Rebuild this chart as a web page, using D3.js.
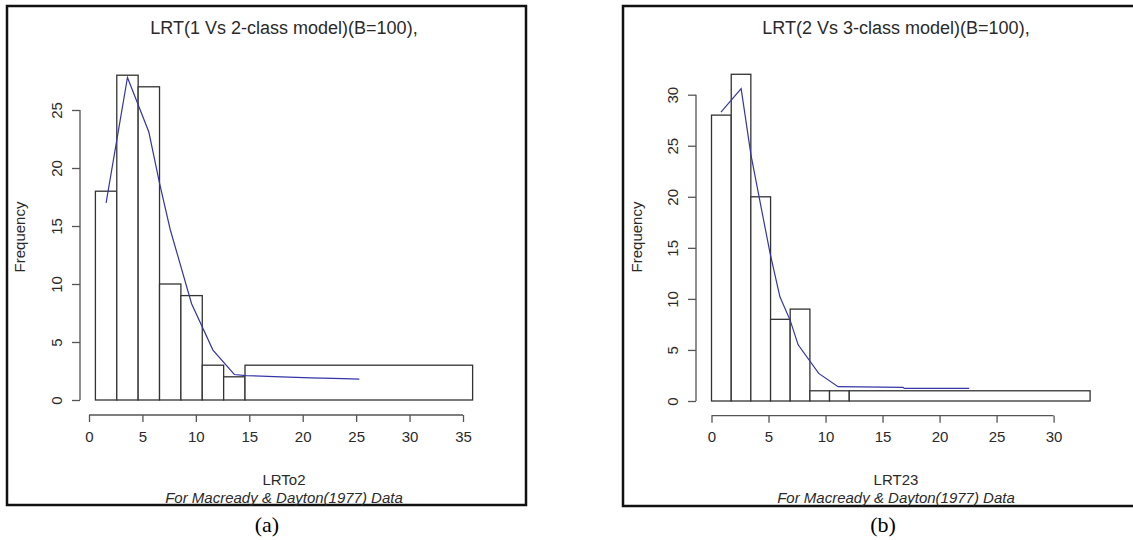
<!DOCTYPE html>
<html>
<head>
<meta charset="utf-8">
<script src="https://cdn.jsdelivr.net/npm/d3@7"></script>
<style>
  body { margin: 0; background: #fff; }
  text { font-family: "Liberation Sans", Arial, sans-serif; fill: #2a2a2a; }
  text.tag { font-family: "Liberation Serif", "Times New Roman", serif; fill: #000; }
</style>
</head>
<body>
<script>
// ---- data ----
// (a) LRT 1 vs 2 class
let breaksA = [0.6, 2.6, 4.6, 6.6, 8.6, 10.6, 12.6, 14.6, 35.9];
let countsA = [18, 28, 27, 10, 9, 3, 2, 3];
let lineAx = [1.6, 3.6, 5.6, 6.6, 7.6, 9.6, 11.6, 13.6, 14.7, 18.0, 20.8, 23.8, 25.3];
let lineAy = [17.0, 27.8, 23.1, 18.7, 14.7, 8.3, 4.3, 2.2, 2.1, 2.0, 1.9, 1.85, 1.8];
let xTicksA = [0, 5, 10, 15, 20, 25, 30, 35];
let yTicksA = [0, 5, 10, 15, 20, 25];

// (b) LRT 2 vs 3 class
let breaksB = [0, 1.73, 3.45, 5.18, 6.9, 8.63, 10.35, 12.08, 33.2];
let countsB = [28, 32, 20, 8, 9, 1, 1, 1];
let lineBx = [0.83, 2.6, 3.46, 5.13, 6.0, 6.9, 7.6, 9.4, 11.1, 16.8, 16.9, 22.6];
let lineBy = [28.3, 30.6, 24.1, 14.5, 10.2, 7.9, 5.5, 2.7, 1.4, 1.34, 1.24, 1.24];
let xTicksB = [0, 5, 10, 15, 20, 25, 30];
let yTicksB = [0, 5, 10, 15, 20, 25, 30];

let svg = d3.select("body").append("svg")
    .attr("width", 1133)
    .attr("height", 540);

svg.append("rect").attr("width", 1133).attr("height", 540).attr("fill", "#fff");

function drawPanel(p) {
  let x = d3.scaleLinear().domain(p.xDom).range(p.xRange);
  let y = d3.scaleLinear().domain(p.yDom).range(p.yRange);
  let g = svg.append("g");

  // frame
  g.append("rect")
      .attr("x", p.frame[0]).attr("y", p.frame[1])
      .attr("width", p.frame[2]).attr("height", p.frame[3])
      .attr("fill", "none").attr("stroke", "#111").attr("stroke-width", 2.5);

  // bars
  let bins = p.counts.map(function(c, i) {
    return {x0: p.breaks[i], x1: p.breaks[i + 1], count: c};
  });
  g.selectAll(".bar")
      .data(bins)
      .enter().append("rect")
      .attr("class", "bar")
      .attr("x", function(d) { return x(d.x0); })
      .attr("width", function(d) { return x(d.x1) - x(d.x0); })
      .attr("y", function(d) { return y(d.count); })
      .attr("height", function(d) { return y(0) - y(d.count); })
      .attr("fill", "#fff")
      .attr("stroke", "#333")
      .attr("stroke-width", 1.3);

  // density-ish line
  let pts = p.lx.map(function(v, i) { return [v, p.ly[i]]; });
  g.append("path")
      .datum(pts)
      .attr("fill", "none")
      .attr("stroke", "#3535a8")
      .attr("stroke-width", 1.2)
      .attr("d", d3.line()
        .x(function(d) { return x(d[0]); })
        .y(function(d) { return y(d[1]); }));

  // x axis (R style, offset below)
  let xa = g.append("g")
      .attr("transform", "translate(0," + p.xAxisY + ")")
      .call(d3.axisBottom(x).tickValues(p.xTicks).tickSize(7).tickPadding(9).tickSizeOuter(0));
  xa.select(".domain").attr("stroke", "#555").attr("stroke-width", 1.3)
      .attr("d", "M" + x(p.xTicks[0]) + ",0H" + x(p.xTicks[p.xTicks.length - 1]));
  xa.selectAll(".tick line").attr("stroke", "#555").attr("stroke-width", 1.3);
  xa.selectAll(".tick text").attr("font-size", 15);

  // y axis, rotated labels
  let ya = g.append("g")
      .attr("transform", "translate(" + p.yAxisX + ",0)")
      .call(d3.axisLeft(y).tickValues(p.yTicks).tickSize(8).tickSizeOuter(0));
  ya.select(".domain").attr("stroke", "#555").attr("stroke-width", 1.3)
      .attr("d", "M0," + y(p.yTicks[0]) + "V" + y(p.yTicks[p.yTicks.length - 1]));
  ya.selectAll(".tick line").attr("stroke", "#555").attr("stroke-width", 1.3);
  ya.selectAll(".tick text")
      .attr("font-size", 15)
      .attr("x", null).attr("dy", null)
      .attr("text-anchor", "middle")
      .attr("transform", "translate(-18,0) rotate(-90)");

  // titles
  g.append("text")
      .attr("x", p.titleX).attr("y", 34)
      .attr("text-anchor", "middle").attr("font-size", 18)
      .text(p.title);
  g.append("text")
      .attr("transform", "translate(" + p.ylabX + ",237) rotate(-90)")
      .attr("text-anchor", "middle").attr("font-size", 15)
      .text("Frequency");
  g.append("text")
      .attr("x", p.titleX).attr("y", 485)
      .attr("text-anchor", "middle").attr("font-size", 15)
      .text(p.xlab);
  g.append("text")
      .attr("x", p.titleX).attr("y", 503)
      .attr("text-anchor", "middle").attr("font-size", 15)
      .attr("font-style", "italic")
      .text("For Macready & Dayton(1977) Data");
  g.append("text")
      .attr("class", "tag")
      .attr("x", p.tagX).attr("y", 532)
      .attr("text-anchor", "middle").attr("font-size", 22)
      .text(p.tag);
}

drawPanel({
  breaks: breaksA, counts: countsA, lx: lineAx, ly: lineAy,
  xTicks: xTicksA, yTicks: yTicksA,
  xDom: [0, 35], xRange: [89, 463],
  yDom: [0, 25], yRange: [400, 110],
  xAxisY: 415, yAxisX: 80,
  frame: [7, 6, 519, 499],
  title: "LRT(1 Vs 2-class model)(B=100),", titleX: 284,
  xlab: "LRTo2", ylabX: 25, tag: "(a)", tagX: 267
});

drawPanel({
  breaks: breaksB, counts: countsB, lx: lineBx, ly: lineBy,
  xTicks: xTicksB, yTicks: yTicksB,
  xDom: [0, 30], xRange: [711.5, 1053.6],
  yDom: [0, 30], yRange: [401, 94.7],
  xAxisY: 415.7, yAxisX: 696,
  frame: [623, 6, 520, 500],
  title: "LRT(2 Vs 3-class model)(B=100),", titleX: 896,
  xlab: "LRT23", ylabX: 642, tag: "(b)", tagX: 883
});
</script>
</body>
</html>
